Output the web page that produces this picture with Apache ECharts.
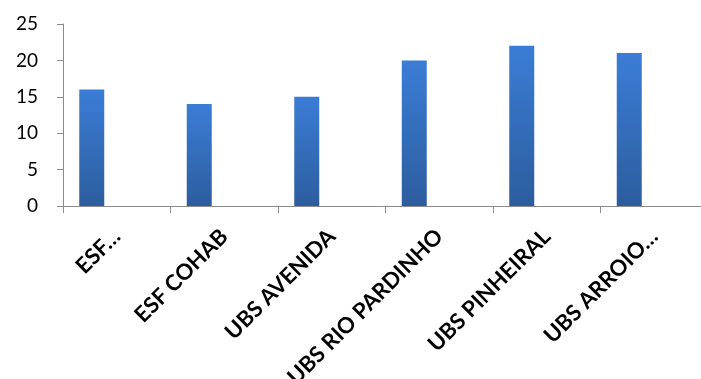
<!DOCTYPE html>
<html>
<head>
<meta charset="utf-8">
<script src="https://cdn.jsdelivr.net/npm/echarts@6/dist/echarts.min.js"></script>
<style>
html,body{margin:0;padding:0;background:#fff;}
#chart{width:701px;height:379px;}
</style>
</head>
<body>
<div id="chart"></div>
<script>
const categories = ['ESF…', 'ESF COHAB', 'UBS AVENIDA', 'UBS RIO PARDINHO', 'UBS PINHEIRAL', 'UBS ARROIO…'];
const values = [16, 14, 15, 20, 22, 21];
const yTicks = [0, 5, 10, 15, 20, 25];

const chart = echarts.init(document.getElementById('chart'), null, {renderer: 'canvas'});
const barColor = new echarts.graphic.LinearGradient(0, 0, 0, 1, [
  {offset: 0, color: '#3b7dd6'},
  {offset: 1, color: '#2c5d9e'}
]);
chart.setOption({
  animation: false,
  backgroundColor: '#ffffff',
  grid: {left: 63, top: 24, width: 645, height: 182, containLabel: false, outerBoundsMode: 'none'},
  xAxis: {
    type: 'category',
    data: categories,
    boundaryGap: true,
    axisLine: {show: true, lineStyle: {color: '#8c8c8c', width: 1}},
    axisTick: {show: true, length: 7, alignWithLabel: false, lineStyle: {color: '#8c8c8c'}},
    axisLabel: {
      interval: 0,
      rotate: 45,
      margin: 27,
      color: '#000',
      fontFamily: 'Lato',
      fontWeight: 'bold',
      fontSize: 22
    }
  },
  yAxis: {
    type: 'value',
    min: yTicks[0],
    max: yTicks[yTicks.length - 1],
    interval: yTicks[1] - yTicks[0],
    axisLine: {show: true, lineStyle: {color: '#8c8c8c', width: 1}},
    axisTick: {show: true, length: 6, lineStyle: {color: '#8c8c8c'}},
    splitLine: {show: false},
    axisLabel: {
      margin: 25,
      color: '#000',
      fontFamily: 'Lato',
      fontSize: 19
    }
  },
  series: [
    {type: 'bar', data: values, barWidth: 25, barGap: '0%', itemStyle: {color: barColor}},
    {type: 'bar', data: [], barWidth: 25, barGap: '0%'},
    {type: 'bar', data: [], barWidth: 25, barGap: '0%'}
  ]
});
</script>
</body>
</html>
